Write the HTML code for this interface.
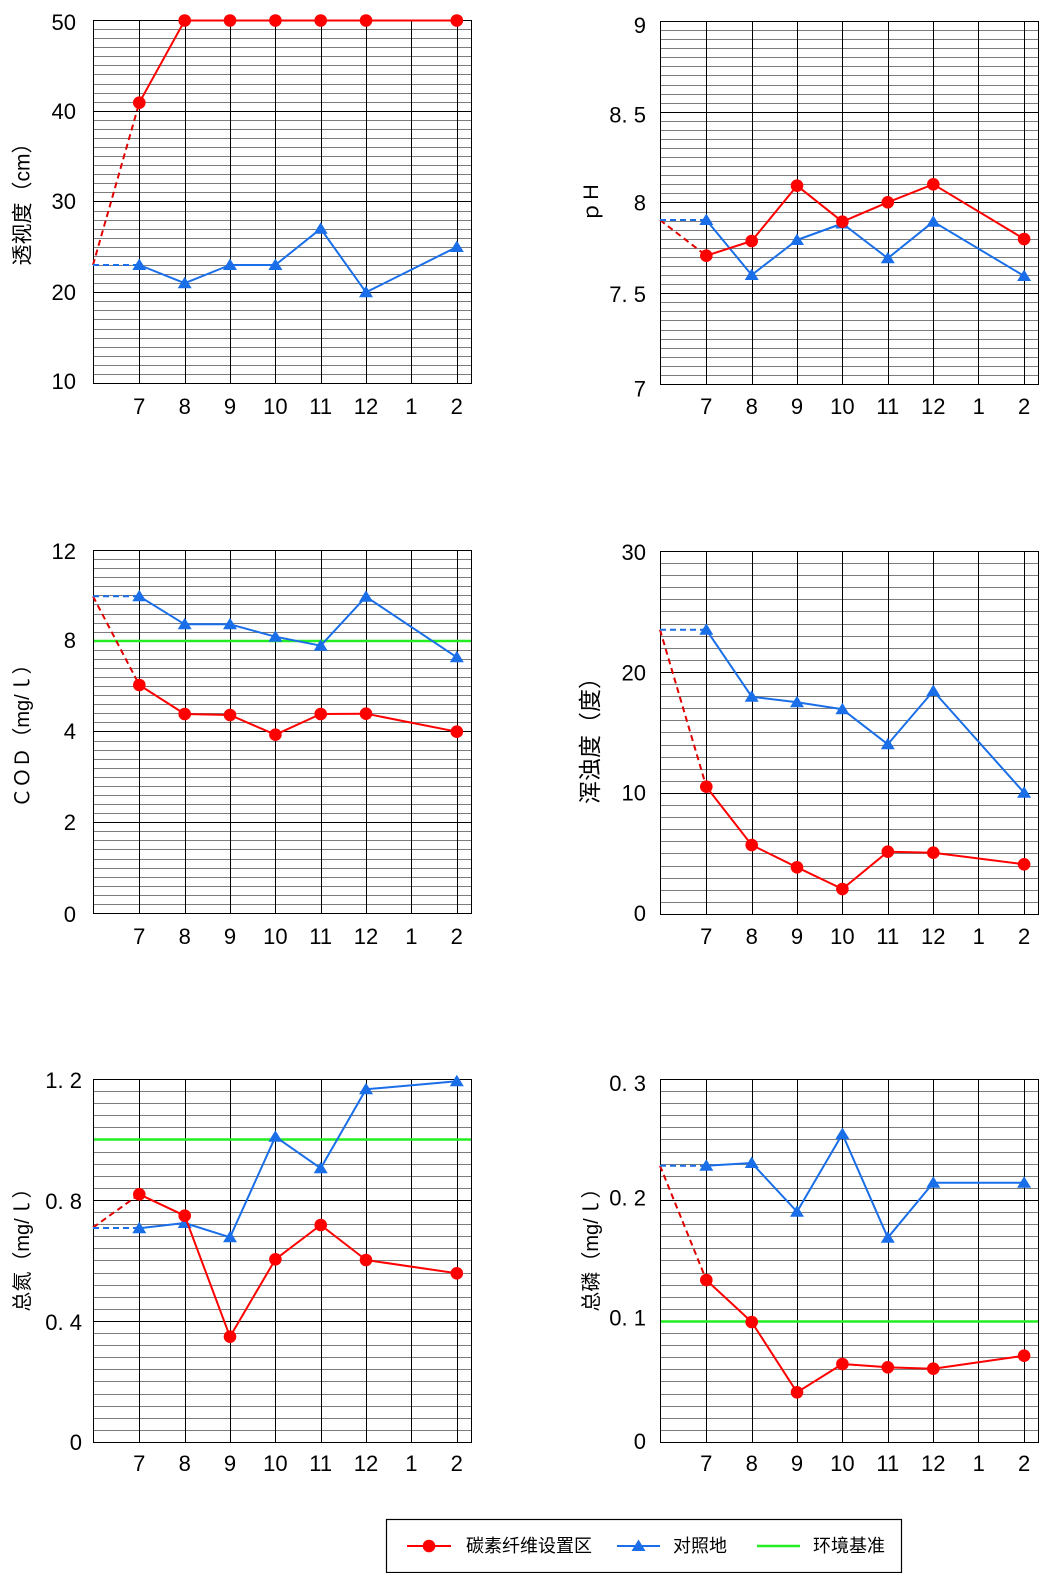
<!DOCTYPE html>
<html>
<head>
<meta charset="utf-8">
<style>
html,body{margin:0;padding:0;background:#fff;}
svg{display:block;}
.tk{font-family:"Liberation Sans",sans-serif;font-size:22px;fill:#000;}
.ttl{font-family:"Liberation Sans","Noto Sans CJK SC",sans-serif;fill:#000;}
.lg{font-family:"Liberation Sans","Noto Sans CJK SC",sans-serif;font-size:18px;fill:#000;}
.rs{fill:none;stroke:#ff0000;stroke-width:2;stroke-linejoin:round;}
.bs{fill:none;stroke:#1a6fe8;stroke-width:2;stroke-linejoin:round;}
.rd{fill:none;stroke:#e00000;stroke-width:2;stroke-dasharray:6,4;}
.bd{fill:none;stroke:#1a6fe8;stroke-width:2;stroke-dasharray:6,4;}
.gr{stroke:#22ee22;stroke-width:2.5;}
</style>
</head>
<body>
<svg width="1040" height="1573" viewBox="0 0 1040 1573" xmlns="http://www.w3.org/2000/svg">
<defs>
  <path id="m40" fill="none" stroke="#7c7c7c" stroke-width="1" d="M0 9.5H378M0 18.5H378M0 27.5H378M0 36.5H378M0 45.5H378M0 54.5H378M0 64.5H378M0 73.5H378M0 82.5H378M0 100.5H378M0 109.5H378M0 118.5H378M0 127.5H378M0 136.5H378M0 145.5H378M0 154.5H378M0 163.5H378M0 172.5H378M0 191.5H378M0 200.5H378M0 209.5H378M0 218.5H378M0 227.5H378M0 236.5H378M0 245.5H378M0 254.5H378M0 263.5H378M0 281.5H378M0 290.5H378M0 299.5H378M0 309.5H378M0 318.5H378M0 327.5H378M0 336.5H378M0 345.5H378M0 354.5H378"/>
  <path id="M40" fill="none" stroke="#000" stroke-width="1" d="M0 91.5H378M0 181.5H378M0 272.5H378"/>
  <path id="m30" fill="none" stroke="#7c7c7c" stroke-width="1" d="M0 12.5H378M0 24.5H378M0 36.5H378M0 48.5H378M0 60.5H378M0 73.5H378M0 85.5H378M0 97.5H378M0 109.5H378M0 133.5H378M0 145.5H378M0 157.5H378M0 169.5H378M0 181.5H378M0 194.5H378M0 206.5H378M0 218.5H378M0 230.5H378M0 254.5H378M0 266.5H378M0 278.5H378M0 290.5H378M0 302.5H378M0 315.5H378M0 327.5H378M0 339.5H378M0 351.5H378"/>
  <path id="M30" fill="none" stroke="#000" stroke-width="1" d="M0 121.5H378M0 242.5H378"/>
  <g id="fr">
    <path fill="none" stroke="#000" stroke-width="1" d="M46.5 0V363M92.5 0V363M137.5 0V363M182.5 0V363M228.5 0V363M273.5 0V363M318.5 0V363M364.5 0V363"/>
    <rect x="0.5" y="0.5" width="378" height="363" fill="none" stroke="#000" stroke-width="1"/>
  </g>
  <circle id="ci" cx="0" cy="0" r="6.3" fill="#ff0000"/>
  <path id="tr" d="M0 -6.5L7 5L-7 5Z" fill="#1a6fe8"/>
</defs>

<!-- ============ Chart 1: 透视度 ============ -->
<g transform="translate(93,20)">
  <use href="#m40"/><use href="#M40"/><use href="#fr"/>
</g>
<polyline class="rd" points="93,265 139.3,102.7"/>
<polyline class="bd" points="93,265 139.3,265"/>
<polyline class="bs" points="139.3,265 184.7,283.2 230,265 275.4,265 320.7,228.7 366,292.3 456.8,247"/>
<use href="#tr" x="139.3" y="265"/><use href="#tr" x="184.7" y="283.2"/><use href="#tr" x="230" y="265"/><use href="#tr" x="275.4" y="265"/><use href="#tr" x="320.7" y="228.7"/><use href="#tr" x="366" y="292.3"/><use href="#tr" x="456.8" y="247"/>
<polyline class="rs" points="139.3,102.7 184.7,20.5 230,20.5 275.4,20.5 320.7,20.5 366,20.5 456.8,20.5"/>
<use href="#ci" x="139.3" y="102.7"/><use href="#ci" x="184.7" y="20.5"/><use href="#ci" x="230" y="20.5"/><use href="#ci" x="275.4" y="20.5"/><use href="#ci" x="320.7" y="20.5"/><use href="#ci" x="366" y="20.5"/><use href="#ci" x="456.8" y="20.5"/>
<g class="tk" text-anchor="end">
  <text x="76" y="30">50</text><text x="76" y="119">40</text><text x="76" y="209">30</text><text x="76" y="300">20</text><text x="76" y="389">10</text>
</g>
<g class="tk" text-anchor="middle">
  <text x="139.3" y="414">7</text><text x="184.7" y="414">8</text><text x="230" y="414">9</text><text x="275.4" y="414">10</text><text x="320.7" y="414">11</text><text x="366" y="414">12</text><text x="411.4" y="414">1</text><text x="456.8" y="414">2</text>
</g>
<text class="ttl" font-size="21" transform="translate(23,199) rotate(-90)" text-anchor="middle" dominant-baseline="central">透视度（cm）</text>

<!-- ============ Chart 2: pH ============ -->
<g transform="translate(660,21)">
  <use href="#m40"/><use href="#M40"/><use href="#fr"/>
</g>
<polyline class="rd" points="660,220 706.3,255.7"/>
<polyline class="bd" points="660,220 706.3,220"/>
<polyline class="bs" points="706.3,220 751.7,275 797,240 842.4,223.5 887.8,258.3 933.3,221.7 1024.1,276"/>
<use href="#tr" x="706.3" y="220"/><use href="#tr" x="751.7" y="275"/><use href="#tr" x="797" y="240"/><use href="#tr" x="842.4" y="223.5"/><use href="#tr" x="887.8" y="258.3"/><use href="#tr" x="933.3" y="221.7"/><use href="#tr" x="1024.1" y="276"/>
<polyline class="rs" points="706.3,255.7 751.7,241 797,185.7 842.4,221.7 887.8,202.3 933.3,184.3 1024.1,239"/>
<use href="#ci" x="706.3" y="255.7"/><use href="#ci" x="751.7" y="241"/><use href="#ci" x="797" y="185.7"/><use href="#ci" x="842.4" y="221.7"/><use href="#ci" x="887.8" y="202.3"/><use href="#ci" x="933.3" y="184.3"/><use href="#ci" x="1024.1" y="239"/>
<g class="tk" text-anchor="end">
  <text x="646" y="33">9</text><text x="646" y="122.5">8. 5</text><text x="646" y="210.5">8</text><text x="646" y="302">7. 5</text><text x="646" y="396.5">7</text>
</g>
<g class="tk" text-anchor="middle">
  <text x="706.3" y="414">7</text><text x="751.7" y="414">8</text><text x="797" y="414">9</text><text x="842.4" y="414">10</text><text x="887.8" y="414">11</text><text x="933.3" y="414">12</text><text x="978.7" y="414">1</text><text x="1024.1" y="414">2</text>
</g>
<text class="ttl" font-size="20" transform="translate(592,202) rotate(-90)" text-anchor="middle" dominant-baseline="central">ｐＨ</text>

<!-- ============ Chart 3: COD ============ -->
<g transform="translate(93,550)">
  <use href="#m40"/><use href="#M40"/><use href="#fr"/>
</g>
<line class="gr" x1="94" y1="641" x2="471" y2="641"/>
<polyline class="rd" points="93,596.3 139.3,685"/>
<polyline class="bd" points="93,596.3 139.3,596.3"/>
<polyline class="bs" points="139.3,596.3 184.7,624.3 230,624.3 275.4,636.7 320.7,645.7 366,596.7 456.8,657.3"/>
<use href="#tr" x="139.3" y="596.3"/><use href="#tr" x="184.7" y="624.3"/><use href="#tr" x="230" y="624.3"/><use href="#tr" x="275.4" y="636.7"/><use href="#tr" x="320.7" y="645.7"/><use href="#tr" x="366" y="596.7"/><use href="#tr" x="456.8" y="657.3"/>
<polyline class="rs" points="139.3,685 184.7,714 230,715 275.4,734.7 320.7,714 366,713.7 456.8,731.7"/>
<use href="#ci" x="139.3" y="685"/><use href="#ci" x="184.7" y="714"/><use href="#ci" x="230" y="715"/><use href="#ci" x="275.4" y="734.7"/><use href="#ci" x="320.7" y="714"/><use href="#ci" x="366" y="713.7"/><use href="#ci" x="456.8" y="731.7"/>
<g class="tk" text-anchor="end">
  <text x="76" y="559">12</text><text x="76" y="648">8</text><text x="76" y="739">4</text><text x="76" y="830">2</text><text x="76" y="922">0</text>
</g>
<g class="tk" text-anchor="middle">
  <text x="139.3" y="944">7</text><text x="184.7" y="944">8</text><text x="230" y="944">9</text><text x="275.4" y="944">10</text><text x="320.7" y="944">11</text><text x="366" y="944">12</text><text x="411.4" y="944">1</text><text x="456.8" y="944">2</text>
</g>
<text class="ttl" font-size="20" transform="translate(23,731) rotate(-90)" text-anchor="middle" dominant-baseline="central">ＣＯＤ（mg/ｌ）</text>

<!-- ============ Chart 4: 浑浊度 ============ -->
<g transform="translate(660,551)">
  <use href="#m30"/><use href="#M30"/><use href="#fr"/>
</g>
<polyline class="rd" points="660,629.7 706.3,786.7"/>
<polyline class="bd" points="660,629.7 706.3,629.7"/>
<polyline class="bs" points="706.3,629.7 751.7,696.7 797,702.3 842.4,709.3 887.8,744.3 933.3,691 1024.1,792.7"/>
<use href="#tr" x="706.3" y="629.7"/><use href="#tr" x="751.7" y="696.7"/><use href="#tr" x="797" y="702.3"/><use href="#tr" x="842.4" y="709.3"/><use href="#tr" x="887.8" y="744.3"/><use href="#tr" x="933.3" y="691"/><use href="#tr" x="1024.1" y="792.7"/>
<polyline class="rs" points="706.3,786.7 751.7,845 797,867.3 842.4,889 887.8,851.7 933.3,852.7 1024.1,864.3"/>
<use href="#ci" x="706.3" y="786.7"/><use href="#ci" x="751.7" y="845"/><use href="#ci" x="797" y="867.3"/><use href="#ci" x="842.4" y="889"/><use href="#ci" x="887.8" y="851.7"/><use href="#ci" x="933.3" y="852.7"/><use href="#ci" x="1024.1" y="864.3"/>
<g class="tk" text-anchor="end">
  <text x="646" y="560">30</text><text x="646" y="680.5">20</text><text x="646" y="800.5">10</text><text x="646" y="921">0</text>
</g>
<g class="tk" text-anchor="middle">
  <text x="706.3" y="944">7</text><text x="751.7" y="944">8</text><text x="797" y="944">9</text><text x="842.4" y="944">10</text><text x="887.8" y="944">11</text><text x="933.3" y="944">12</text><text x="978.7" y="944">1</text><text x="1024.1" y="944">2</text>
</g>
<text class="ttl" font-size="23" transform="translate(590,735) rotate(-90)" text-anchor="middle" dominant-baseline="central">浑浊度（度）</text>

<!-- ============ Chart 5: 总氮 ============ -->
<g transform="translate(93,1079)">
  <use href="#m30"/><use href="#M30"/><use href="#fr"/>
</g>
<line class="gr" x1="94" y1="1139.5" x2="471" y2="1139.5"/>
<polyline class="rd" points="93,1227.5 139.3,1194.3"/>
<polyline class="bd" points="93,1228 139.3,1228"/>
<polyline class="bs" points="139.3,1228.3 184.7,1223 230,1237.3 275.4,1136.7 320.7,1168.3 366,1089.3 456.8,1081.3"/>
<use href="#tr" x="139.3" y="1228.3"/><use href="#tr" x="184.7" y="1223"/><use href="#tr" x="230" y="1237.3"/><use href="#tr" x="275.4" y="1136.7"/><use href="#tr" x="320.7" y="1168.3"/><use href="#tr" x="366" y="1089.3"/><use href="#tr" x="456.8" y="1081.3"/>
<polyline class="rs" points="139.3,1194.3 184.7,1215.7 230,1336.7 275.4,1259.3 320.7,1225 366,1260 456.8,1273.3"/>
<use href="#ci" x="139.3" y="1194.3"/><use href="#ci" x="184.7" y="1215.7"/><use href="#ci" x="230" y="1336.7"/><use href="#ci" x="275.4" y="1259.3"/><use href="#ci" x="320.7" y="1225"/><use href="#ci" x="366" y="1260"/><use href="#ci" x="456.8" y="1273.3"/>
<g class="tk" text-anchor="end">
  <text x="82" y="1088">1. 2</text><text x="82" y="1209">0. 8</text><text x="82" y="1330">0. 4</text><text x="82" y="1450">0</text>
</g>
<g class="tk" text-anchor="middle">
  <text x="139.3" y="1471">7</text><text x="184.7" y="1471">8</text><text x="230" y="1471">9</text><text x="275.4" y="1471">10</text><text x="320.7" y="1471">11</text><text x="366" y="1471">12</text><text x="411.4" y="1471">1</text><text x="456.8" y="1471">2</text>
</g>
<text class="ttl" font-size="20" transform="translate(23,1245) rotate(-90)" text-anchor="middle" dominant-baseline="central">总氮（mg/ｌ）</text>

<!-- ============ Chart 6: 总磷 ============ -->
<g transform="translate(660,1079)">
  <use href="#m30"/><use href="#M30"/><use href="#fr"/>
</g>
<line class="gr" x1="661" y1="1321.5" x2="1038" y2="1321.5"/>
<polyline class="rd" points="660,1165.7 706.3,1280"/>
<polyline class="bd" points="660,1165.7 706.3,1165.7"/>
<polyline class="bs" points="706.3,1165.7 751.7,1163 797,1211.7 842.4,1134 887.8,1237.7 933.3,1182.7 1024.1,1182.7"/>
<use href="#tr" x="706.3" y="1165.7"/><use href="#tr" x="751.7" y="1163"/><use href="#tr" x="797" y="1211.7"/><use href="#tr" x="842.4" y="1134"/><use href="#tr" x="887.8" y="1237.7"/><use href="#tr" x="933.3" y="1182.7"/><use href="#tr" x="1024.1" y="1182.7"/>
<polyline class="rs" points="706.3,1280 751.7,1322 797,1392.3 842.4,1364 887.8,1367.3 933.3,1368.7 1024.1,1355.7"/>
<use href="#ci" x="706.3" y="1280"/><use href="#ci" x="751.7" y="1322"/><use href="#ci" x="797" y="1392.3"/><use href="#ci" x="842.4" y="1364"/><use href="#ci" x="887.8" y="1367.3"/><use href="#ci" x="933.3" y="1368.7"/><use href="#ci" x="1024.1" y="1355.7"/>
<g class="tk" text-anchor="end">
  <text x="646" y="1091">0. 3</text><text x="646" y="1205.5">0. 2</text><text x="646" y="1325.5">0. 1</text><text x="646" y="1449">0</text>
</g>
<g class="tk" text-anchor="middle">
  <text x="706.3" y="1471">7</text><text x="751.7" y="1471">8</text><text x="797" y="1471">9</text><text x="842.4" y="1471">10</text><text x="887.8" y="1471">11</text><text x="933.3" y="1471">12</text><text x="978.7" y="1471">1</text><text x="1024.1" y="1471">2</text>
</g>
<text class="ttl" font-size="20" transform="translate(592,1245) rotate(-90)" text-anchor="middle" dominant-baseline="central">总磷（mg/ｌ）</text>

<!-- ============ Legend ============ -->
<rect x="386.5" y="1519.5" width="515" height="53" fill="#fff" stroke="#000" stroke-width="1.2"/>
<line x1="407" y1="1546" x2="451" y2="1546" stroke="#ff0000" stroke-width="2"/>
<use href="#ci" x="429" y="1546"/>
<text class="lg" x="466" y="1546" dominant-baseline="central">碳素纤维设置区</text>
<line x1="617" y1="1546" x2="660" y2="1546" stroke="#1a6fe8" stroke-width="2"/>
<use href="#tr" x="638.5" y="1546"/>
<text class="lg" x="673" y="1546" dominant-baseline="central">对照地</text>
<line x1="757" y1="1546" x2="800" y2="1546" stroke="#22ee22" stroke-width="2.5"/>
<text class="lg" x="813" y="1546" dominant-baseline="central">环境基准</text>
</svg>
</body>
</html>
